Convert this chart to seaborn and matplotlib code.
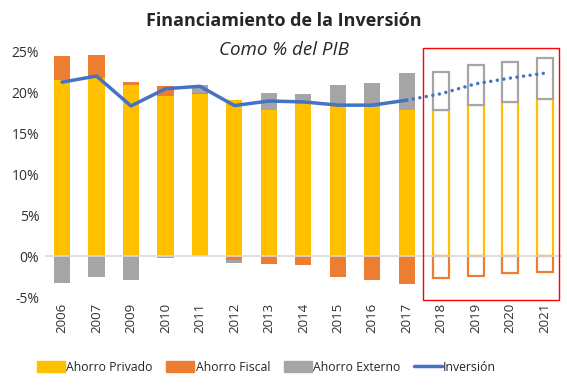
import numpy as np
import pandas as pd
import seaborn as sns
import matplotlib.pyplot as plt
from matplotlib.patches import Rectangle, Patch
from matplotlib.lines import Line2D

# Data (% del PIB)
years = ['2006', '2007', '2009', '2010', '2011', '2012', '2013', '2014',
         '2015', '2016', '2017', '2018', '2019', '2020', '2021']
privado = [21.5, 21.7, 20.8, 19.55, 19.7, 19.0, 17.85, 18.5, 18.3, 18.2, 17.85, 17.8, 18.4, 18.75, 19.2]
fiscal = [2.9, 2.8, 0.4, 1.15, 0.2, -0.5, -0.95, -1.05, -2.5, -2.9, -3.4, -2.7, -2.45, -2.05, -1.9]
externo = [-3.25, -2.6, -2.9, -0.2, 1.0, -0.3, 2.05, 1.25, 2.55, 2.9, 4.45, 4.7, 4.85, 4.95, 5.0]
inversion = [21.2, 21.95, 18.3, 20.4, 20.7, 18.35, 18.9, 18.8, 18.4, 18.4, 19.0, 19.8, 21.0, 21.7, 22.3]
first_forecast = 11  # 2018 onward are projections

sns.set_style('white')
plt.rcParams['font.family'] = ['Open Sans', 'DejaVu Sans']

c_priv, c_fisc, c_ext, c_inv = '#FFC000', '#ED7D31', '#A5A5A5', '#4472C4'

fig = plt.figure(figsize=(5.67, 3.88), dpi=100)
ax = fig.add_axes([0.079, 0.2345, 0.912, 0.634])

x = np.arange(len(years))
w = 0.47
pos_base = np.zeros(len(years))
neg_base = np.zeros(len(years))
for vals, col in [(privado, c_priv), (fiscal, c_fisc), (externo, c_ext)]:
    vals = np.array(vals)
    bottoms = np.where(vals >= 0, pos_base, neg_base)
    for i in x:
        if i < first_forecast:
            ax.bar(i, vals[i], w, bottom=bottoms[i], color=col, linewidth=0, zorder=2)
        else:
            ax.bar(i, vals[i], w, bottom=bottoms[i], facecolor='white',
                   edgecolor=col, linewidth=1.6, zorder=2)
    pos_base = pos_base + np.where(vals >= 0, vals, 0)
    neg_base = neg_base + np.where(vals < 0, vals, 0)

df = pd.DataFrame({'x': x, 'inv': inversion})
sns.lineplot(data=df[df.x <= 10], x='x', y='inv', color=c_inv, lw=2.5, ax=ax, zorder=4)
sns.lineplot(data=df[df.x >= 10], x='x', y='inv', color=c_inv, lw=2.5, ax=ax,
             zorder=4, linestyle=(0, (0.01, 1.9)), dash_capstyle='round')

ax.axhline(0, color='#D9D9D9', lw=1.2, zorder=3)
ax.set_xlim(-0.5, len(years) - 0.5)
ax.set_ylim(-5, 25)
ax.set_yticks(range(-5, 26, 5))
ax.set_yticklabels([f'{t}%' for t in range(-5, 26, 5)], fontsize=10, color='#303030')
ax.set_xticks(x)
ax.set_xticklabels(years, rotation=90, fontsize=9.5, color='#303030')
ax.tick_params(axis='both', length=0, pad=4)
ax.set_xlabel('')
ax.set_ylabel('')
sns.despine(ax=ax, left=True, bottom=True)

# red box around the projection years
ax.add_patch(Rectangle((10.46, -5.4), 3.97, 30.8, fill=False, edgecolor='#FF0000',
                       lw=1.0, clip_on=False, zorder=5))

fig.text(0.5, 0.945, 'Financiamiento de la Inversión', ha='center', va='center',
         fontsize=13, fontweight='bold')
fig.text(0.5, 0.872, 'Como % del PIB', ha='center', va='center',
         fontsize=13.5, style='italic')

handles = [Patch(color=c_priv, label='Ahorro Privado'),
           Patch(color=c_fisc, label='Ahorro Fiscal'),
           Patch(color=c_ext, label='Ahorro Externo'),
           Line2D([], [], color=c_inv, lw=2.5, label='Inversión')]
fig.legend(handles=handles, loc='center', bbox_to_anchor=(0.47, 0.053), ncol=4,
           frameon=False, fontsize=8.8, handlelength=2.3, handleheight=0.95,
           handletextpad=0.1, columnspacing=1.1)

fig.savefig('out.png', dpi=100)
